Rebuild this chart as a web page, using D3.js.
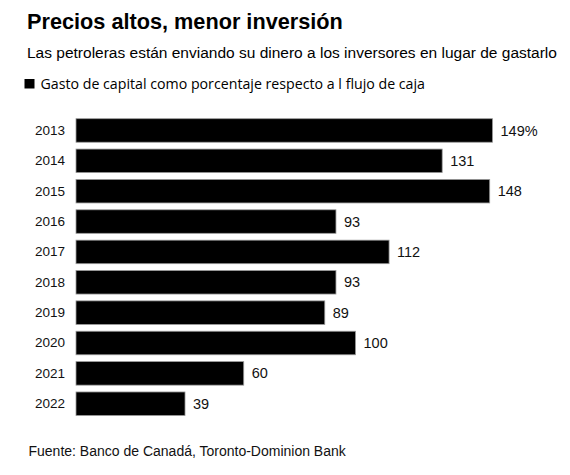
<!DOCTYPE html>
<html>
<head>
<meta charset="utf-8">
<script src="https://cdn.jsdelivr.net/npm/d3@7"></script>
<style>
  body { margin: 0; background: #fff; }
  svg { display: block; }
</style>
</head>
<body>
<div id="chart"></div>
<script>
// data
var years = ["2013", "2014", "2015", "2016", "2017", "2018", "2019", "2020", "2021", "2022"];
var capexShare = [149, 131, 148, 93, 112, 93, 89, 100, 60, 39];
var valueLabels = ["149%", "131", "148", "93", "112", "93", "89", "100", "60", "39"];

var width = 570,
  height = 475;

var svg = d3
  .select("#chart")
  .append("svg")
  .attr("width", width)
  .attr("height", height);

var rows = years.map(function (y, i) {
  return { year: y, value: capexShare[i], label: valueLabels[i] };
});

// scales
var x = d3.scaleLinear().domain([0, 149]).range([76, 492.5]);
var y = d3
  .scaleBand()
  .domain(years)
  .range([118.7, 415.5])
  .paddingInner(0.225)
  .paddingOuter(0);

// title block
svg
  .append("text")
  .attr("x", 27)
  .attr("y", 28.5)
  .style("font-family", "Liberation Sans, Arial, sans-serif")
  .style("font-weight", "bold")
  .style("font-size", "21.7px")
  .text("Precios altos, menor inversión");

svg
  .append("text")
  .attr("x", 27)
  .attr("y", 57.5)
  .style("font-family", "Liberation Sans, Arial, sans-serif")
  .style("font-size", "15.5px")
  .text("Las petroleras están enviando su dinero a los inversores en lugar de gastarlo");

// legend
svg
  .append("rect")
  .attr("x", 24.5)
  .attr("y", 79)
  .attr("width", 10)
  .attr("height", 9.5)
  .attr("fill", "#000");

svg
  .append("text")
  .attr("x", 40.5)
  .attr("y", 88.5)
  .style("font-family", "Open Sans, Noto Sans, sans-serif")
  .style("font-size", "14.2px")
  .text("Gasto de capital como porcentaje respecto a l flujo de caja");

// bars
svg
  .selectAll("rect.bar")
  .data(rows)
  .enter()
  .append("rect")
  .attr("class", "bar")
  .attr("x", x(0))
  .attr("y", function (d) {
    return y(d.year);
  })
  .attr("width", function (d) {
    return x(d.value) - x(0);
  })
  .attr("height", y.bandwidth())
  .attr("fill", "#000")
  .attr("stroke", "#9a9a9a")
  .attr("stroke-width", 0.8);

// year axis (no line, no ticks)
var yAxis = svg
  .append("g")
  .attr("transform", "translate(" + (x(0) - 3) + ",0)")
  .call(d3.axisLeft(y).tickSize(0).tickPadding(8));
yAxis.select(".domain").remove();
yAxis
  .selectAll("text")
  .style("font-family", "Liberation Sans, Arial, sans-serif")
  .style("font-size", "13.5px")
  .attr("fill", "#111");

// value labels
svg
  .selectAll("text.value")
  .data(rows)
  .enter()
  .append("text")
  .attr("class", "value")
  .attr("x", function (d) {
    return x(d.value) + 8;
  })
  .attr("y", function (d) {
    return y(d.year) + y.bandwidth() / 2;
  })
  .attr("dy", "0.35em")
  .style("font-family", "Liberation Sans, Arial, sans-serif")
  .style("font-size", "14.5px")
  .attr("fill", "#111")
  .text(function (d) {
    return d.label;
  });

// source
svg
  .append("text")
  .attr("x", 28.5)
  .attr("y", 456)
  .style("font-family", "Liberation Sans, Arial, sans-serif")
  .style("font-size", "14px")
  .attr("fill", "#111")
  .text("Fuente: Banco de Canadá, Toronto-Dominion Bank");
</script>
</body>
</html>
